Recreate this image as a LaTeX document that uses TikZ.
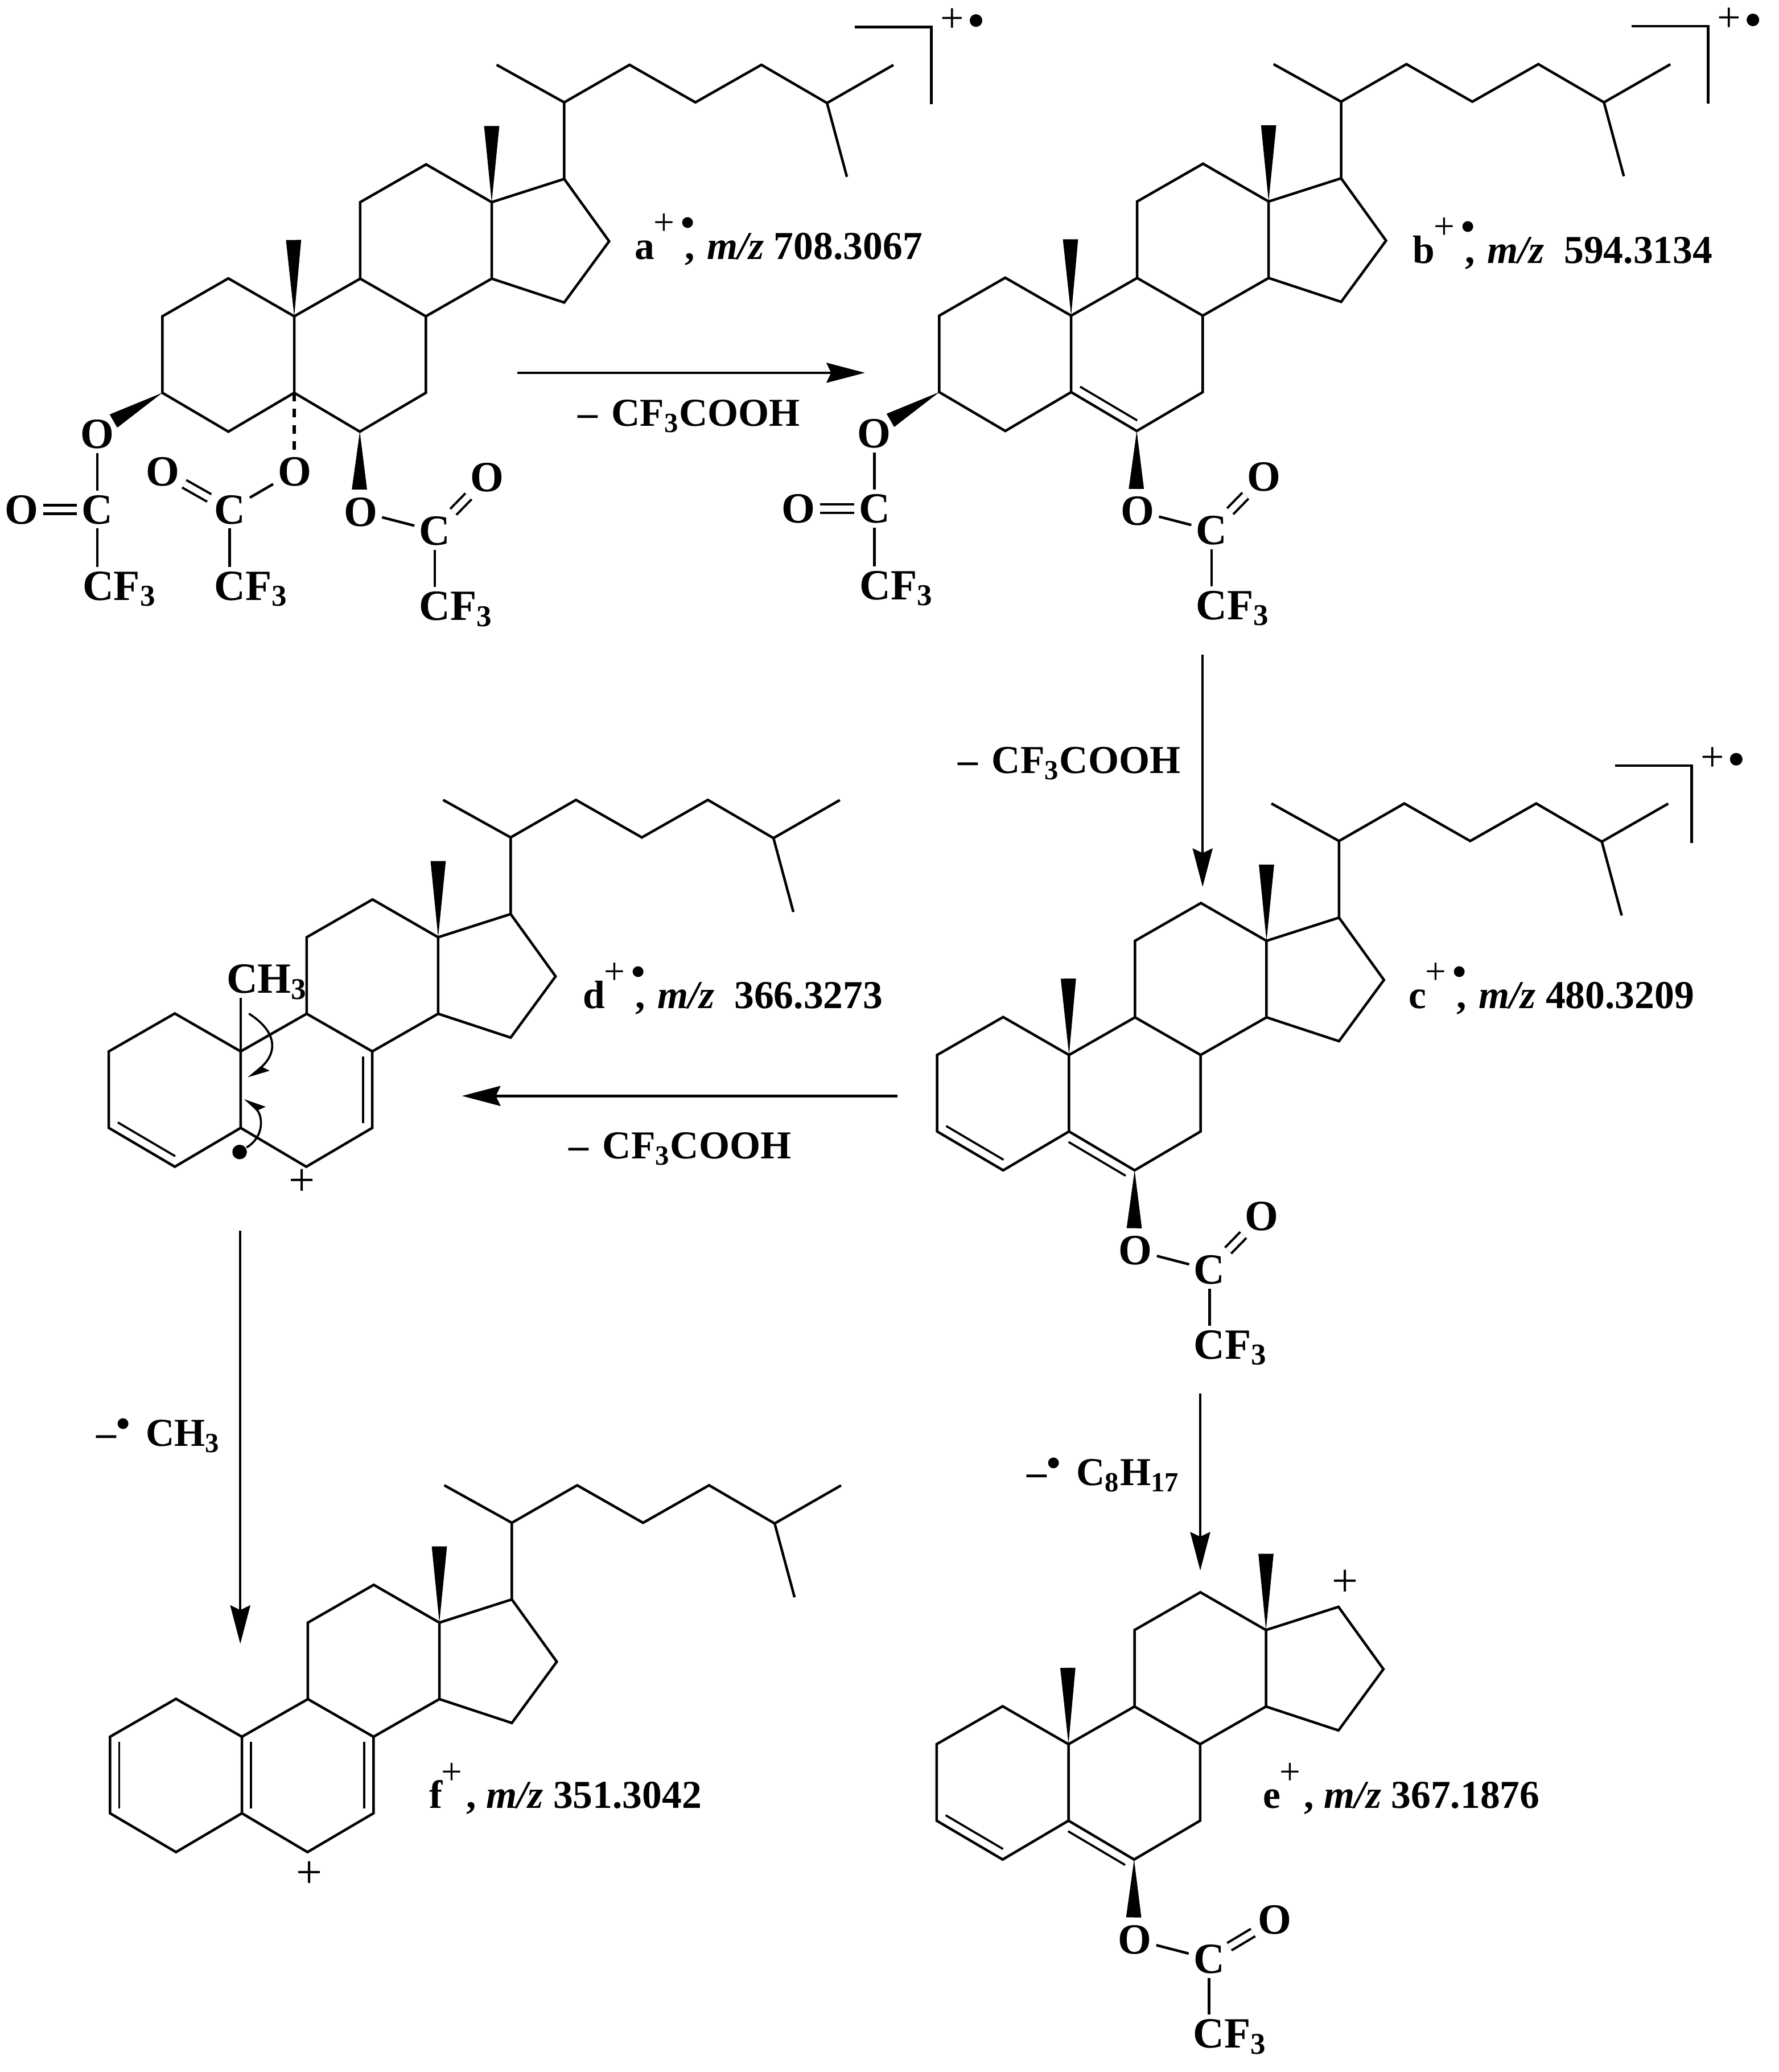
\documentclass[tikz,border=0pt]{standalone}
\usepackage{fontspec}
\setmainfont{Liberation Serif}
\usetikzlibrary{calc,arrows.meta}

\tikzset{
	atom/.style={font=\fontsize{18.5}{20}\selectfont\bfseries, inner sep=1.5pt, text depth=0pt},
	caption/.style={font=\fontsize{17}{20}\selectfont\bfseries, inner sep=0pt, anchor=base west},
	charge/.style={font=\fontsize{20}{22}\selectfont, inner sep=0pt},
	brcharge/.style={font=\fontsize{18}{20}\selectfont, inner sep=0pt},
	spin/.style={circle, fill, inner sep=0pt, minimum size=0.19cm},
	dbond/.style={double, double distance=2.65pt, line width=1pt},
	hbond/.style={line width=1.7pt, dash pattern=on 3.7pt off 3.2pt},
	step arrow/.style={line width=1.1pt, -{Stealth[length=0.58cm, width=0.3cm, inset=0.07cm]}},
	push arrow/.style={line width=0.9pt, -{Stealth[harpoon, length=0.28cm, width=0.24cm, inset=0.05cm]}},
	push swap/.style={line width=0.9pt, -{Stealth[harpoon, swap, length=0.28cm, width=0.24cm, inset=0.05cm]}}
}

\newcommand{\supplus}{\rlap{\hspace{-.03em}\raisebox{10.4pt}{\fontsize{16}{18}\selectfont\mdseries +}}}
\newcommand{\radcat}{\supplus\hspace{.77em}\rlap{\hspace{-.1em}\raisebox{10pt}{\textbullet}}}
\newcommand{\catonly}{\supplus\hspace{.6em}}
\newcommand{\wedgebond}[2]{\fill (#1) -- ($(#2)!.115cm!90:(#1)$) -- ($(#2)!.115cm!-90:(#1)$) -- cycle;}
\newcommand{\innerbond}[2]{\draw[line width=0.9pt] ($(#1)!.065!(#2)!.14cm!90:(#2)$) -- ($(#2)!.065!(#1)!.14cm!-90:(#1)$);}

\newcommand{\steroid}[1]{
	\coordinate (#1c1) at (172.3,210);
	\coordinate (#1c2) at (122.5,238.6);
	\coordinate (#1c3) at (122.5,296.3);
	\coordinate (#1c4) at (172.3,325.6);
	\coordinate (#1c5) at (222,296.3);
	\coordinate (#1c6) at (271.5,325.6);
	\coordinate (#1c7) at (321.3,296.3);
	\coordinate (#1c8) at (321.3,238.6);
	\coordinate (#1c9) at (271.8,210.2);
	\coordinate (#1c10) at (222,238.6);
	\coordinate (#1c11) at (271.8,152.5);
	\coordinate (#1c12) at (321.5,124);
	\coordinate (#1c13) at (371,152.5);
	\coordinate (#1c14) at (371,210.2);
	\coordinate (#1c15) at (425.7,228.2);
	\coordinate (#1c16) at (459.6,182);
	\coordinate (#1c17) at (425.7,135);
	\coordinate (#1c18) at (371,95);
	\draw (#1c10) -- (#1c1) -- (#1c2) -- (#1c3) -- (#1c4) -- (#1c5) -- cycle;
	\draw (#1c5) -- (#1c6) -- (#1c7) -- (#1c8) -- (#1c9) -- (#1c10);
	\draw (#1c9) -- (#1c11) -- (#1c12) -- (#1c13) -- (#1c14) -- (#1c8);
	\draw (#1c13) -- (#1c17) -- (#1c16) -- (#1c15) -- (#1c14);
	\wedgebond{#1c13}{#1c18}
}

\newcommand{\sidechain}[1]{
	\coordinate (#1c20) at (425.7,77.2);
	\coordinate (#1c21) at (374.7,48.9);
	\coordinate (#1c22) at (475,48.9);
	\coordinate (#1c23) at (524.7,77.2);
	\coordinate (#1c24) at (574.5,48.9);
	\coordinate (#1c25) at (624,77.7);
	\coordinate (#1c26) at (674.1,49);
	\coordinate (#1c27) at (639,133.4);
	\draw (#1c17) -- (#1c20) -- (#1c22) -- (#1c23) -- (#1c24) -- (#1c25) -- (#1c26);
	\draw (#1c20) -- (#1c21);
	\draw (#1c25) -- (#1c27);
}

\newcommand{\angularmethyl}[1]{
	\coordinate (#1c19) at (221.5,181);
	\wedgebond{#1c10}{#1c19}
}

\newcommand{\radbracket}[1]{
	\draw (644.8,20.3) -- (702.7,20.3) -- (702.7,78.7);
	\node[brcharge] (#1plus) at (718.5,15.3) {+};
	\node[spin] (#1spin) at (736.4,15.5) {};
}

\newcommand{\sixester}[2][(367.5,360)]{
	\coordinate (#2w6) at (271.2,369.3);
	\wedgebond{#2c6}{#2w6}
	\node[atom] (#2o6) at (272,386) {O};
	\node[atom] (#2k6) at (328,400.5) {C};
	\node[atom] (#2d6) at #1 {O};
	\node[atom] (#2f6) at (344,457) {CF\textsubscript{3}};
	\draw (#2o6) -- (#2k6);
	\draw[dbond] (#2k6) -- (#2d6);
	\draw (#2k6) -- (#2k6 |- #2f6.north);
}

\newcommand{\threeester}[1]{
	\coordinate (#1w3) at (85.6,317.6);
	\wedgebond{#1c3}{#1w3}
	\node[atom] (#1o3) at (73.5,327.3) {O};
	\node[atom] (#1k3) at (73.5,384.3) {C};
	\node[atom] (#1d3) at (16.2,384.3) {O};
	\node[atom] (#1f3) at (90.2,441.9) {CF\textsubscript{3}};
	\draw (#1o3) -- (#1k3);
	\draw[dbond] (#1k3) -- (#1d3);
	\draw (#1k3) -- (#1k3 |- #1f3.north);
}

\begin{document}
\begin{tikzpicture}[x=0.02cm, y=-0.02cm, line width=1.1pt]
	\useasboundingbox (0,0) rectangle (1342,1563);

	\steroid{a}
	\sidechain{a}
	\angularmethyl{a}
	\radbracket{a}
	\threeester{a}
	\sixester{a}
	\node[atom] (ao5) at (222.3,355.7) {O};
	\node[atom] (ak5) at (173.2,384.3) {C};
	\node[atom] (ad5) at (122.7,355.7) {O};
	\node[atom] (af5) at (189.4,441.9) {CF\textsubscript{3}};
	\draw[hbond] (ac5) -- (ac5 |- ao5.north);
	\draw (ao5) -- (ak5);
	\draw[dbond] (ak5) -- (ad5);
	\draw (ak5) -- (ak5 |- af5.north);

	\begin{scope}[shift={(586.2,-0.5)}]
		\steroid{b}
		\sidechain{b}
		\angularmethyl{b}
		\radbracket{b}
		\threeester{b}
		\sixester{b}
		\innerbond{bc5}{bc6}
	\end{scope}

	\begin{scope}[shift={(584.6,557.2)}]
		\steroid{c}
		\sidechain{c}
		\angularmethyl{c}
		\begin{scope}[shift={(-11,0)}]
			\radbracket{c}
		\end{scope}
		\sixester{c}
		\innerbond{cc6}{cc5}
		\innerbond{cc3}{cc4}
	\end{scope}

	\begin{scope}[shift={(-40.4,554.5)}]
		\steroid{d}
		\sidechain{d}
		\innerbond{dc3}{dc4}
		\innerbond{dc7}{dc8}
		\node[atom] (dme) at (241.9,184) {CH\textsubscript{3}};
		\draw (dc10) -- (dc10 |- dme.south);
		\coordinate (dp1) at (228.2,210.1);
		\coordinate (dp2) at (227.7,258.8);
		\coordinate (dp3) at (226.4,311.1);
		\coordinate (dp4) at (225,274);
		\draw[push arrow] (dp1) .. controls (250,224) and (250,240) .. (dp2);
		\draw[push swap] (dp3) .. controls (240,303) and (239,287) .. (dp4);
		\node[spin, minimum size=0.22cm] (dspin) at (221.2,314.5) {};
		\node[charge] (dplus) at (268.4,337.5) {+};
	\end{scope}

	\begin{scope}[shift={(584.2,1077.1)}]
		\steroid{e}
		\angularmethyl{e}
		\sixester[(377.5,371)]{e}
		\innerbond{ec6}{ec5}
		\innerbond{ec3}{ec4}
		\node[charge] (eplus) at (430.8,117.3) {+};
	\end{scope}

	\begin{scope}[shift={(-39.5,1071.5)}]
		\steroid{f}
		\sidechain{f}
		\innerbond{fc2}{fc3}
		\innerbond{fc10}{fc5}
		\innerbond{fc7}{fc8}
		\node[charge] (fplus) at (272.7,342.5) {+};
	\end{scope}

	\node[caption] (alabel) at (478,195.4) {a\radcat,\hspace{.05em} \textit{m/z} 708.3067};
	\node[caption] (blabel) at (1065,198.5) {b\radcat,\hspace{.05em} \textit{m/z}\ \ 594.3134};
	\node[caption] (clabel) at (1062,760.5) {c\radcat,\hspace{.05em} \textit{m/z} 480.3209};
	\node[caption] (dlabel) at (439,760.5) {d\radcat,\hspace{.05em} \textit{m/z}\ \ 366.3273};
	\node[caption] (elabel) at (952,1364) {e\catonly, \textit{m/z} 367.1876};
	\node[caption] (flabel) at (323,1364) {f\catonly, \textit{m/z} 351.3042};

	\coordinate (ab0) at (390.4,281.2);
	\coordinate (ab1) at (652.6,281.2);
	\coordinate (bc0) at (907.4,494);
	\coordinate (bc1) at (907.4,669);
	\coordinate (cd0) at (677,826.7);
	\coordinate (cd1) at (348.6,826.7);
	\coordinate (df0) at (181.3,928.3);
	\coordinate (df1) at (181.3,1240);
	\coordinate (ce0) at (905.6,1051);
	\coordinate (ce1) at (905.6,1184.7);
	\draw[step arrow] (ab0) -- (ab1);
	\draw[step arrow] (bc0) -- (bc1);
	\draw[step arrow] (cd0) -- (cd1);
	\draw[step arrow] (df0) -- (df1);
	\draw[step arrow] (ce0) -- (ce1);

	\node[caption] (ablabel) at (435,321.5) {{\textendash}\hspace{.35em}CF\textsubscript{3}COOH};
	\node[caption] (bclabel) at (722,583.4) {{\textendash}\hspace{.35em}CF\textsubscript{3}COOH};
	\node[caption] (cdlabel) at (428.3,874) {{\textendash}\hspace{.35em}CF\textsubscript{3}COOH};
	\node[caption] (dflabel) at (71.7,1091) {{\textendash}\raisebox{.23em}{\textbullet}\hspace{.4em}CH\textsubscript{3}};
	\node[caption] (celabel) at (774,1120.7) {{\textendash}\raisebox{.23em}{\textbullet}\hspace{.4em}C\textsubscript{8}H\textsubscript{17}};
\end{tikzpicture}
\end{document}
